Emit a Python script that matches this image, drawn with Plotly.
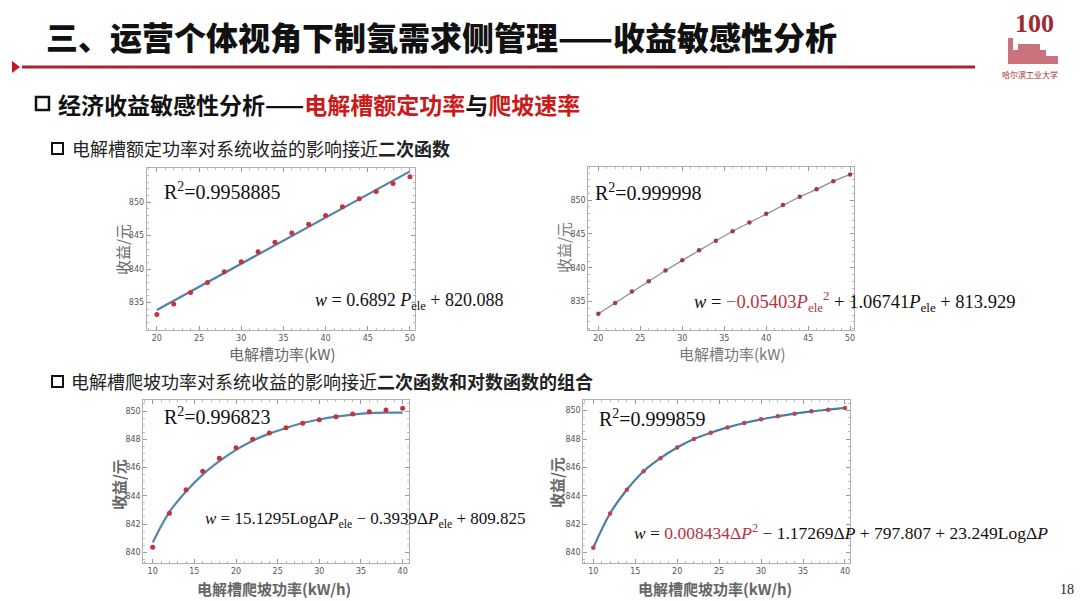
import plotly.graph_objects as go

W, H = 1080, 601

# ---------------- data ----------------
power_kw = [20, 22, 24, 26, 28, 30, 32, 34, 36, 38, 40, 42, 44, 46, 48, 50]
revenue_vs_power = [833.2, 834.8, 836.5, 838.0, 839.6, 841.1, 842.6, 844.0,
                    845.4, 846.7, 848.0, 849.3, 850.5, 851.6, 852.8, 853.8]
linear_fit_x = [20, 50]
linear_fit_y = [833.9, 854.6]

ramp_kwh = [10, 12, 14, 16, 18, 20, 22, 24, 26, 28, 30, 32, 34, 36, 38, 40]
revenue_vs_ramp = [840.35, 842.76, 844.43, 845.73, 846.65, 847.40, 848.00, 848.44,
                   848.82, 849.13, 849.39, 849.60, 849.79, 849.95, 850.07, 850.19]
log_fit_y = [840.70, 842.85, 844.30, 845.50, 846.45, 847.25, 847.90, 848.40,
             848.80, 849.15, 849.40, 849.60, 849.75, 849.85, 849.88, 849.88]

power_ticks = [20, 25, 30, 35, 40, 45, 50]
revenue_ticks_top = [835, 840, 845, 850]
ramp_ticks = [10, 15, 20, 25, 30, 35, 40]
revenue_ticks_bottom = [840, 842, 844, 846, 848, 850]

r2_labels = ["R<sup>2</sup>=0.9958885", "R<sup>2</sup>=0.999998",
             "R<sup>2</sup>=0.996823", "R<sup>2</sup>=0.999859"]

RED_EQ = "#b8323f"
eq_labels = [
    "<i>w</i> = 0.6892 <i>P</i><sub>ele</sub> + 820.088",
    "<i>w</i> = <span style='color:%s'>−0.05403<i>P</i><sub>ele</sub><sup>2</sup></span> + 1.06741<i>P</i><sub>ele</sub> + 813.929" % RED_EQ,
    "<i>w</i> = 15.1295LogΔ<i>P</i><sub>ele</sub> − 0.3939Δ<i>P</i><sub>ele</sub> + 809.825",
    "<i>w</i> = <span style='color:%s'>0.008434Δ<i>P</i><sup>2</sup></span> − 1.17269Δ<i>P</i> + 797.807 + 23.249LogΔ<i>P</i>" % RED_EQ,
]


def px(x):
    return x / W


def py(y):
    return 1 - y / H


fig = go.Figure()

# ---- plot 1 (top-left)
fig.add_trace(go.Scatter(x=linear_fit_x, y=linear_fit_y, mode="lines",
                         line=dict(color="#5282a8", width=2.2), xaxis="x", yaxis="y"))
fig.add_trace(go.Scatter(x=power_kw, y=revenue_vs_power, mode="markers",
                         marker=dict(color="#c8303c", size=5), xaxis="x", yaxis="y"))
# ---- plot 2 (top-right)
fig.add_trace(go.Scatter(x=power_kw, y=revenue_vs_power, mode="lines",
                         line=dict(color="#8a9090", width=1.3), xaxis="x2", yaxis="y2"))
fig.add_trace(go.Scatter(x=power_kw, y=revenue_vs_power, mode="markers",
                         marker=dict(color="#9e3a4c", size=4.5), xaxis="x2", yaxis="y2"))
# ---- plot 3 (bottom-left)
fig.add_trace(go.Scatter(x=ramp_kwh, y=log_fit_y, mode="lines", line_shape="spline",
                         line=dict(color="#5586ae", width=2.2), xaxis="x3", yaxis="y3"))
fig.add_trace(go.Scatter(x=ramp_kwh, y=revenue_vs_ramp, mode="markers",
                         marker=dict(color="#c8303c", size=5), xaxis="x3", yaxis="y3"))
# ---- plot 4 (bottom-right)
fig.add_trace(go.Scatter(x=ramp_kwh, y=revenue_vs_ramp, mode="lines", line_shape="spline",
                         line=dict(color="#4c7ca5", width=2.2), xaxis="x4", yaxis="y4"))
fig.add_trace(go.Scatter(x=ramp_kwh, y=revenue_vs_ramp, mode="markers",
                         marker=dict(color="#c4404f", size=4.5), xaxis="x4", yaxis="y4"))


def axis(domain, rng, ticks, anchor, minor_dtick):
    return dict(domain=domain, range=rng, tickvals=ticks, anchor=anchor,
                ticks="inside", ticklen=4, tickcolor="#999", tickwidth=1,
                showline=True, linecolor="#b0b0b0", linewidth=1, mirror="ticks",
                showgrid=False, zeroline=False,
                tickfont=dict(size=8, color="#555", family="DejaVu Sans"),
                minor=dict(ticks="inside", ticklen=2, tickcolor="#bbb",
                           dtick=minor_dtick, tick0=0, showgrid=False))


layout_axes = dict(
    xaxis=axis([px(146.7), px(415)], [18.8, 50.6], power_ticks, "y", 1),
    yaxis=axis([py(330), py(168)], [830.9, 855.1], revenue_ticks_top, "x", 1),
    xaxis2=axis([px(588.3), px(854.3)], [18.8, 50.5], power_ticks, "y2", 1),
    yaxis2=axis([py(330), py(167)], [830.8, 854.9], revenue_ticks_top, "x2", 1),
    xaxis3=axis([px(143.3), px(409.3)], [8.87, 40.8], ramp_ticks, "y3", 1),
    yaxis3=axis([py(563.3), py(400)], [839.22, 850.78], revenue_ticks_bottom, "x3", 0.5),
    xaxis4=axis([px(583.3), px(850)], [8.81, 40.6], ramp_ticks, "y4", 1),
    yaxis4=axis([py(563.3), py(400)], [839.25, 850.75], revenue_ticks_bottom, "x4", 0.5),
)

ann = []
CJK = "Noto Sans CJK SC"
SERIF = "Liberation Serif"


def text(x, y, s, size, color="#000", family=CJK, xanchor="left", angle=0, weight="normal"):
    ann.append(dict(x=px(x), y=py(y), xref="paper", yref="paper", text=s,
                    showarrow=False, xanchor=xanchor, yanchor="middle", textangle=angle,
                    font=dict(size=size, color=color, family=family, weight=weight)))


# title
text(44, 36, "三、运营个体视角下制氢需求侧管理——收益敏感性分析", 32, "#111", weight=900)
# section headings
RED = "#cc1a1a"
text(56, 104, "经济收益敏感性分析——<span style='color:%s'>电解槽额定功率</span>与"
              "<span style='color:%s'>爬坡速率</span>" % (RED, RED), 23, "#111", weight="bold")
text(70, 148, "电解槽额定功率对系统收益的影响接近<b>二次函数</b>", 18, "#222")
text(69, 381, "电解槽爬坡功率对系统收益的影响接近<b>二次函数和对数函数的组合</b>", 18, "#222")

# axis titles
text(122, 250, "收益/元", 15, "#666", xanchor="center", angle=-90)
text(282, 353, "电解槽功率(kW)", 15, "#666", xanchor="center")
text(563, 248, "收益/元", 15, "#777", xanchor="center", angle=-90)
text(732, 353, "电解槽功率(kW)", 15, "#777", xanchor="center")
text(119, 485, "收益/元", 15, "#666", xanchor="center", angle=-90, weight="bold")
text(274, 588, "电解槽爬坡功率(kW/h)", 15, "#666", xanchor="center", weight="bold")
text(557, 483, "收益/元", 15, "#666", xanchor="center", angle=-90, weight="bold")
text(715, 588, "电解槽爬坡功率(kW/h)", 15, "#666", xanchor="center", weight="bold")

# R^2 labels
text(162, 191, r2_labels[0], 20, "#111", SERIF)
text(593, 192, r2_labels[1], 20, "#111", SERIF)
text(162, 416, r2_labels[2], 20, "#111", SERIF)
text(597, 418, r2_labels[3], 20, "#111", SERIF)

# equations
text(313, 301, eq_labels[0], 18, "#111", SERIF)
text(692, 301, eq_labels[1], 18.5, "#111", SERIF)
text(203, 520, eq_labels[2], 17, "#111", SERIF)
text(632, 532, eq_labels[3], 17.5, "#111", SERIF)

# page number
text(1067, 589, "18", 14, "#222", SERIF, xanchor="center")

# logo text
text(1034, 24, "<b>100</b>", 26, "#9e2a33", SERIF, xanchor="center")
text(1030, 74, "哈尔滨工业大学", 8, "#a52a35", xanchor="center")

shapes = []
# title underline and marker
shapes.append(dict(type="line", xref="paper", yref="paper", x0=px(22), x1=px(975),
                   y0=py(67), y1=py(67), line=dict(color="#a8232b", width=3)))
shapes.append(dict(type="path", xref="paper", yref="paper",
                   path="M %f,%f L %f,%f L %f,%f Z" % (px(12), py(61), px(12), py(73), px(20), py(67)),
                   fillcolor="#c8141c", line=dict(width=0)))
# heading boxes
for (x0, y0, s, lw) in [(36, 97, 13, 2.5), (52, 143, 11, 2), (52, 376, 11, 2)]:
    shapes.append(dict(type="rect", xref="paper", yref="paper", x0=px(x0), x1=px(x0 + s),
                       y0=py(y0 + s), y1=py(y0), line=dict(color="#111", width=lw)))
# logo building (simplified)
for (x0, x1, y0, y1) in [(1008, 1013, 38, 64), (1013, 1046, 50, 64), (1018, 1040, 44, 50),
                         (1046, 1058, 56, 64)]:
    shapes.append(dict(type="rect", xref="paper", yref="paper", x0=px(x0), x1=px(x1),
                       y0=py(y1), y1=py(y0), fillcolor="#b84450", opacity=0.75,
                       line=dict(width=0)))

fig.update_layout(
    width=W, height=H, margin=dict(l=0, r=0, t=0, b=0),
    paper_bgcolor="white", plot_bgcolor="white", showlegend=False,
    annotations=ann, shapes=shapes, **layout_axes,
)

fig.write_html("out.html", config={"displayModeBar": False},
               post_script="document.body.style.margin='0';document.body.style.overflow='hidden';")
